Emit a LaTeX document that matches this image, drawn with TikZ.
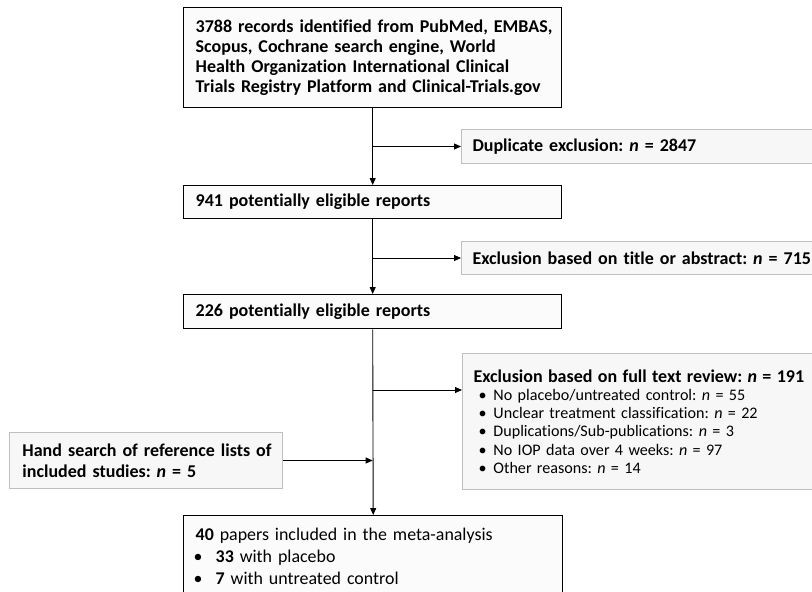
\documentclass[tikz,border=0pt]{standalone}
\usepackage{fontspec}
\setmainfont{Carlito}[Ligatures={NoCommon}]
\usetikzlibrary{arrows.meta}
\definecolor{mainfill}{HTML}{FBFBFB}
\definecolor{exfill}{HTML}{F7F7F7}
\definecolor{boxgray}{HTML}{BFBFBF}
\frenchspacing
\newcommand\Lx[1]{\mbox{#1}}
\newcommand\bulA{\makebox[20pt][l]{\hspace{5pt}•}}
\newcommand\bulB{\makebox[20pt][l]{\hspace{-2pt}•}}
\begin{document}
\begin{tikzpicture}[x=1pt,y=-1pt,
  mainbox/.style={draw=black, line width=1.4pt, fill=mainfill, rectangle, anchor=north west, align=left, inner xsep=12pt, inner ysep=0pt},
  graybox/.style={draw=boxgray, line width=1pt, fill=exfill, rectangle, anchor=north west, align=left, inner xsep=11pt, inner ysep=0pt},
  arr/.style={draw=black, line width=0.9pt, -{Triangle[length=7pt,width=6pt]}},
  bigb/.style={font=\fontsize{18.0}{20.2}\selectfont\bfseries\frenchspacing}]
\useasboundingbox (0,0) rectangle (812,592);
\clip (0,0) rectangle (812,592);

\node[mainbox, bigb, text width=354pt, minimum width=378pt, minimum height=100pt] (rec) at (183,7)
 {\Lx{3788 records identified from PubMed, EMBAS,}\\
  \Lx{Scopus, Cochrane search engine, World}\\
  \Lx{Health Organization International Clinical}\\
  \Lx{Trials Registry Platform and Clinical-Trials.gov}};

\node[graybox, bigb, text width=358pt, minimum width=380pt, minimum height=34pt] (dup) at (461,129)
 {\Lx{Duplicate exclusion: \textit{n} = 2847}};

\node[mainbox, bigb, text width=354pt, minimum width=378pt, minimum height=33pt] (el1) at (183,185)
 {\Lx{941 potentially eligible reports}};

\node[graybox, bigb, text width=358pt, minimum width=380pt, minimum height=33pt] (ex2) at (461,241)
 {\Lx{Exclusion based on title or abstract: \textit{n} = 715}};

\node[mainbox, bigb, text width=354pt, minimum width=378pt, minimum height=34pt] (el2) at (183,294)
 {\Lx{226 potentially eligible reports}};

\node[graybox, font=\fontsize{16.1}{18.3}\selectfont\frenchspacing, text width=358pt, minimum width=380pt, minimum height=136pt] (ex3) at (462,353)
 {\Lx{\fontsize{18.0}{18.3}\selectfont\bfseries Exclusion based on full text review: \textit{n} = 191}\\
  \Lx{\bulA No placebo/untreated control: \textit{n} = 55}\\
  \Lx{\bulA Unclear treatment classification: \textit{n} = 22}\\
  \Lx{\bulA Duplications/Sub-publications: \textit{n} = 3}\\
  \Lx{\bulA No IOP data over 4 weeks: \textit{n} = 97}\\
  \Lx{\bulA Other reasons: \textit{n} = 14}};

\node[graybox, font=\fontsize{18.0}{21}\selectfont\bfseries\frenchspacing, inner xsep=13pt, text width=247pt, minimum width=273pt, minimum height=56pt] (hand) at (9,432)
 {\Lx{Hand search of reference lists of}\\
  \Lx{included studies: \textit{n} = 5}};

\node[mainbox, font=\fontsize{17.9}{22}\selectfont\frenchspacing, text width=355pt, minimum width=379pt, minimum height=81pt] (fin) at (183,515)
 {\Lx{\textbf{40} papers included in the meta-analysis}\\
  \Lx{\bulB\textbf{33} with placebo}\\
  \Lx{\bulB\textbf{7} with untreated control}};

\coordinate (b1) at (rec.south |- dup.west);
\coordinate (b2) at (el1.south |- ex2.west);
\coordinate (b3) at (el2.south |- 0,390);

\draw[arr] (rec.south) -- (el1.north);
\draw[arr] (b1) -- (dup.west);
\draw[arr] (el1.south) -- (el2.north);
\draw[arr] (b2) -- (ex2.west);
\draw[arr] (el2.south) -- (fin.north);
\draw[arr] (b3) -- (b3 -| ex3.west);
\draw[arr] (hand.east) -- (hand.east -| el2.south);
\end{tikzpicture}
\end{document}
